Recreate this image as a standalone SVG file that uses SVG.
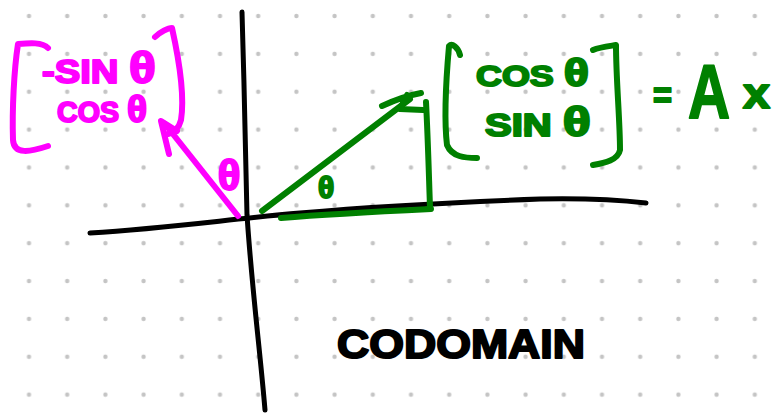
<svg xmlns="http://www.w3.org/2000/svg" width="775" height="416" viewBox="0 0 775 416">
<defs>
<pattern id="dots" patternUnits="userSpaceOnUse" x="9.9" y="-2.9" width="38.2" height="37.86">
<circle cx="19.1" cy="18.9" r="2.2" fill="#c4c4c4"/>
</pattern>
</defs>
<style>
.ink{fill:none;stroke-linecap:round;stroke-linejoin:round}
.blk{stroke:#000;stroke-width:5}
.mag{stroke:#ff00ff;stroke-width:6}
.grn{stroke:#008000;stroke-width:6}
.t{font-family:"Liberation Sans",Arial,sans-serif;font-weight:bold;stroke-width:2;stroke-linejoin:round}
.tm{fill:#ff00ff;stroke:#ff00ff}
.tg{fill:#008000;stroke:#008000}
.tk{fill:#000;stroke:#000}
.th{font-size:1.3em}
</style>
<rect width="775" height="416" fill="#fff"/>
<rect width="775" height="416" fill="url(#dots)"/>

<g id="axes">
<path class="ink blk" d="M242,12 C244,80 246,160 247,215 C252,290 260,350 265,410"/>
<path class="ink blk" d="M90,233 C170,228 230,219 300,213 C380,206 460,202 540,199 C590,198 620,200 646,203"/>
</g>

<g id="connectors">
<path class="ink grn" d="M262,211 L410,99"/>
<path class="ink grn" stroke-width="5" d="M382,106 C395,100 410,95 421,93 M407,95 L400,109 L423,110"/>
<path class="ink grn" d="M426,102 C428,140 429,180 430,207"/>
<path class="ink grn" stroke-width="9" d="M281,218 C330,214 390,211 431,209"/>
<path class="ink mag" d="M238,216 L165,124"/>
<path class="ink mag" d="M169,154 L161,121 L177,131"/>
</g>

<g id="magenta-vector">
<path class="ink mag" d="M48,48 C42,42 30,43 18,44 C14,70 12,110 13,140 C14,155 30,152 48,146"/>
<path class="ink mag" d="M155,37 C160,32 168,28 172,28 C178,55 185,95 181,120 C179,128 175,132 168,134"/>
<text class="t tm" x="42" y="83" font-size="34" textLength="114" lengthAdjust="spacingAndGlyphs">-SIN <tspan class="th">θ</tspan></text>
<text class="t tm" x="57" y="122" font-size="29" textLength="90" lengthAdjust="spacingAndGlyphs">COS <tspan class="th">θ</tspan></text>
</g>

<g id="magenta-theta">
<text class="t tm" x="229" y="190" font-size="42" text-anchor="middle">θ</text>
</g>

<g id="green-theta">
<text class="t tg" x="326" y="198" font-size="30" text-anchor="middle">θ</text>
</g>

<g id="green-vector">
<path class="ink grn" d="M460,55 C458,47 452,43 449,46 C446,80 444,120 447,145 C452,157 465,158 477,158"/>
<path class="ink grn" d="M593,50 C600,47 610,46 616,45 C616,80 620,120 620,150 C618,160 605,163 593,165"/>
<text class="t tg" x="476" y="86" font-size="30" textLength="113" lengthAdjust="spacingAndGlyphs">COS <tspan class="th">θ</tspan></text>
<text class="t tg" x="485" y="136" font-size="31" textLength="106" lengthAdjust="spacingAndGlyphs">SIN <tspan class="th">θ</tspan></text>
</g>

<g id="equation">
<text class="t tg" x="653" y="108" font-size="36" textLength="19" lengthAdjust="spacingAndGlyphs">=</text>
<text class="t tg" x="688" y="118" font-size="76" textLength="42" lengthAdjust="spacingAndGlyphs">A</text>
<text class="t tg" x="743" y="108" font-size="42" textLength="27" lengthAdjust="spacingAndGlyphs">x</text>
</g>

<g id="codomain">
<text class="t tk" x="337" y="358" font-size="40" textLength="248" lengthAdjust="spacingAndGlyphs">CODOMAIN</text>
</g>
</svg>
